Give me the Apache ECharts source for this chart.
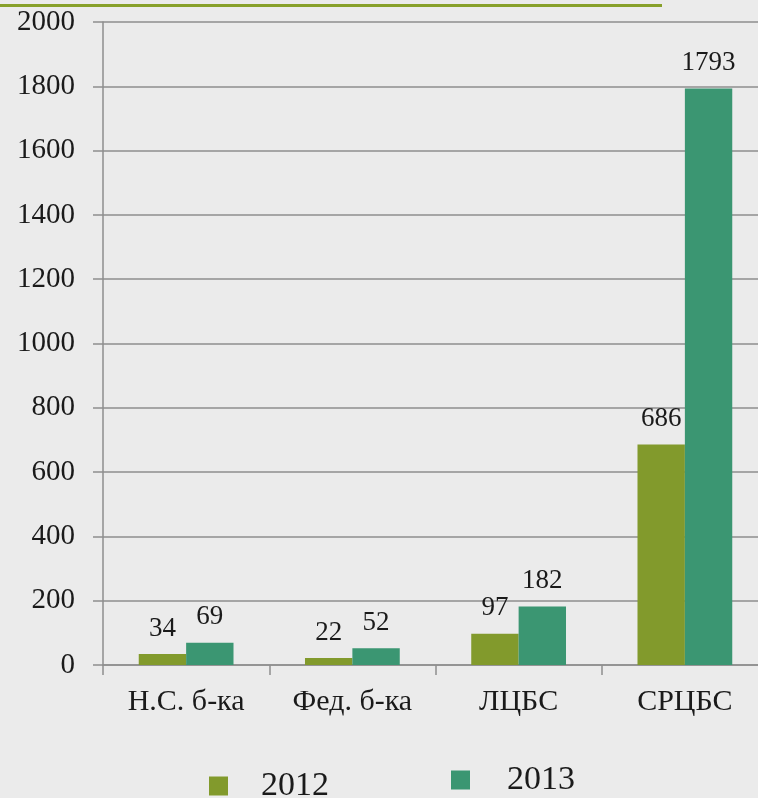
<!DOCTYPE html>
<html>
<head>
<meta charset="utf-8">
<script src="https://cdn.jsdelivr.net/npm/echarts@6/dist/echarts.min.js"></script>
<style>
html,body{margin:0;padding:0;background:#ebebeb;overflow:hidden;width:758px;height:798px;}
#c{width:770px;height:798px;}
</style>
</head>
<body>
<div id="c"></div>
<script>
const categories = ['Н.С. б-ка', 'Фед. б-ка', 'ЛЦБС', 'СРЦБС'];
const values2012 = [34, 22, 97, 686];
const values2013 = [69, 52, 182, 1793];
const seriesNames = ['2012', '2013'];
const yTicks = { min: 0, max: 2000, interval: 200 };

const FONT = 'Liberation Serif';
const chart = echarts.init(document.getElementById('c'), null, { renderer: 'canvas' });
const labelStyle = {
  show: true, position: 'top', distance: 12,
  color: '#1a1a1a', fontFamily: FONT, fontSize: 27
};
chart.setOption({
  backgroundColor: '#ebebeb',
  animation: false,
  textStyle: { fontFamily: FONT },
  graphic: [{
    type: 'line', shape: { x1: 0, y1: 5.5, x2: 662, y2: 5.5 },
    style: { stroke: '#87a02a', lineWidth: 3 }
  }],
  grid: { left: 103, top: 22, width: 665, height: 643 },
  legend: [{
    data: [seriesNames[0]], left: 204, top: 764,
    itemWidth: 19, itemHeight: 19, icon: 'rect',
    textStyle: { fontSize: 34, color: '#1a1a1a', fontFamily: FONT, padding: [0, 0, 0, 28] }
  }, {
    data: [seriesNames[1]], left: 446, top: 758,
    itemWidth: 19, itemHeight: 19, icon: 'rect',
    textStyle: { fontSize: 34, color: '#1a1a1a', fontFamily: FONT, padding: [0, 0, 0, 32] }
  }],
  xAxis: {
    type: 'category', data: categories,
    axisLine: { lineStyle: { color: '#8e8e8e', width: 1.5 } },
    axisTick: { show: true, length: 10, lineStyle: { color: '#8e8e8e', width: 1.5 } },
    axisLabel: { color: '#1a1a1a', fontFamily: FONT, fontSize: 30, margin: 22 }
  },
  yAxis: {
    type: 'value', min: yTicks.min, max: yTicks.max, interval: yTicks.interval,
    axisLine: { show: true, lineStyle: { color: '#8e8e8e', width: 1.5 } },
    axisTick: { show: true, length: 10, lineStyle: { color: '#8e8e8e', width: 1.5 } },
    splitLine: { lineStyle: { color: '#8e8e8e', width: 1.5 } },
    axisLabel: { color: '#1a1a1a', fontFamily: FONT, fontSize: 29, margin: 28,
      formatter: v => String(v) }
  },
  series: [{
    name: seriesNames[0], type: 'bar', data: values2012,
    barGap: '0%', barCategoryGap: '43%',
    itemStyle: { color: '#829a2c' },
    label: labelStyle
  }, {
    name: seriesNames[1], type: 'bar', data: values2013,
    barGap: '0%', barCategoryGap: '43%',
    itemStyle: { color: '#3b9672' },
    label: labelStyle
  }]
});
</script>
</body>
</html>
